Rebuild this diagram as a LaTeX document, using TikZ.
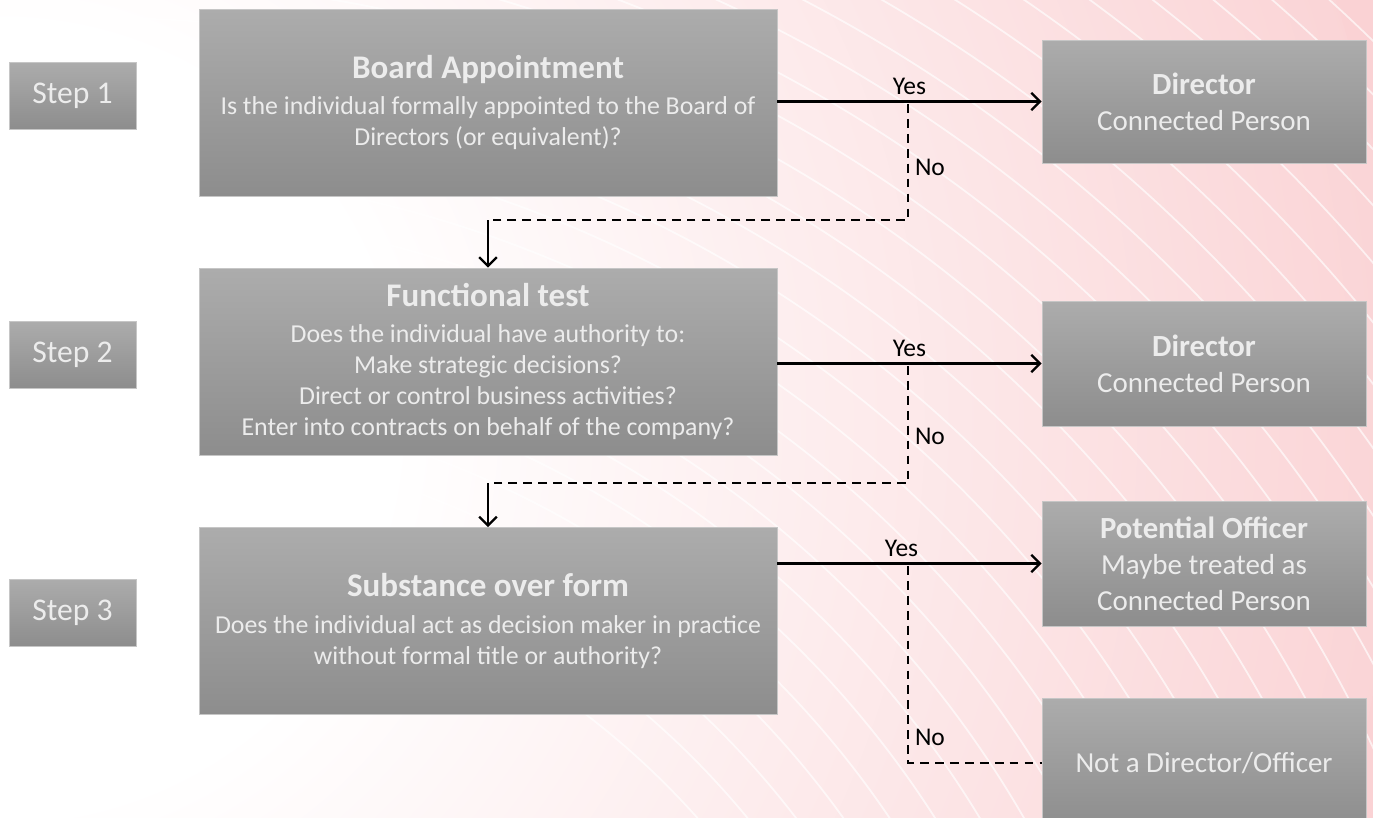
\documentclass[tikz,border=0pt]{standalone}
\usepackage{fontspec}
\setmainfont{Carlito}
\usetikzlibrary{arrows.meta}
\definecolor{bgpink}{RGB}{250,210,212}
\definecolor{boxtop}{RGB}{172,172,172}
\definecolor{boxbot}{RGB}{141,141,141}
\definecolor{boxtext}{RGB}{236,236,236}
\pgfdeclareradialshading{bgglow}{\pgfpoint{0bp}{0bp}}{color(0bp)=(white); color(7bp)=(white); color(26bp)=(bgpink); color(50bp)=(bgpink)}
\newcommand{\lefttitle}[1]{{\fontsize{18.8}{20}\selectfont\bfseries #1}\\[3pt]}
\newcommand{\righttitle}[1]{{\fontsize{17.5}{20}\selectfont\bfseries #1}\\}

\begin{document}
\begin{tikzpicture}[x=0.02cm,y=-0.02cm,
  box/.style={rectangle, top color=boxtop, bottom color=boxbot, draw=gray!45, line width=0.4pt, text=boxtext, align=center, inner sep=0pt},
  stepbox/.style={box, minimum width=2.54cm, minimum height=1.34cm, font=\fontsize{18}{20}\selectfont},
  testbox/.style={box, minimum width=11.56cm, minimum height=3.74cm, font=\fontsize{14.7}{17.6}\selectfont},
  resultbox/.style={box, minimum width=6.48cm, font=\fontsize{16.5}{20.5}\selectfont},
  yes/.style={-{Straight Barb[length=5pt,width=10pt]}, line width=1.3pt},
  no/.style={dash pattern=on 5pt off 3.5pt, line width=1.3pt},
  lbl/.style={font=\fontsize{14.5}{16}\selectfont, text=black},
  bgline/.style={white, opacity=0.65, line width=1pt}
]
\useasboundingbox (0,0) rectangle (1373,818);

% background
\begin{scope}
\clip (0,0) rectangle (1373,818);
\fill[bgpink] (0,0) rectangle (1373,818);
\shade[shading=bgglow] (0,420) circle[radius=1400];
\foreach \r in {800,838,...,1900}
  \draw[bgline] (100,1350) circle[radius=\r];
\end{scope}

% steps
\node[stepbox] (step1) at (72.5,95.5) {Step 1};
\node[stepbox] (step2) at (72.5,354.5) {Step 2};
\node[stepbox] (step3) at (72.5,612.5) {Step 3};

% tests
\node[testbox] (board) at (488,102.5) {\lefttitle{Board Appointment}Is the individual formally appointed to the Board of\\Directors (or equivalent)?};
\node[testbox] (func) at (488,361.5) {\lefttitle{Functional test}Does the individual have authority to:\\Make strategic decisions?\\Direct or control business activities?\\Enter into contracts on behalf of the company?};
\node[testbox] (subst) at (488,621) {\lefttitle{Substance over form}Does the individual act as decision maker in practice\\without formal title or authority?};

% outcomes
\node[resultbox, minimum height=2.46cm] (dir1) at (1204,101.5) {\righttitle{Director}Connected Person};
\node[resultbox, minimum height=2.5cm] (dir2) at (1204,363.5) {\righttitle{Director}Connected Person};
\node[resultbox, minimum height=2.5cm] (officer) at (1204,563.5) {\righttitle{Potential Officer}Maybe treated as\\Connected Person};
\node[resultbox, minimum height=2.6cm] (none) at (1204,763) {Not a Director/Officer};

% yes branches
\draw[yes] (board.east |- dir1.west) -- node[lbl,above,pos=0.5] {Yes} (dir1.west);
\draw[yes] (func.east |- dir2.west) -- node[lbl,above,pos=0.5] {Yes} (dir2.west);
\draw[yes] (subst.east |- officer.west) -- node[lbl,above,pos=0.47] {Yes} (officer.west);

% no branches
\coordinate (split1) at (908,104);
\coordinate (bend1) at (908,220);
\coordinate (drop1) at (488,220);
\draw[no] (split1) -- node[lbl,right,pos=0.55] {No} (bend1) -- (drop1);
\draw[yes] (drop1) -- (func.north);

\coordinate (split2) at (908,366);
\coordinate (bend2) at (908,483);
\coordinate (drop2) at (488,483);
\draw[no] (split2) -- node[lbl,right,pos=0.6] {No} (bend2) -- (drop2);
\draw[yes] (drop2) -- (subst.north);

\coordinate (split3) at (908,566);
\coordinate (bend3) at (908,763);
\draw[no] (split3) -- node[lbl,right,pos=0.87] {No} (bend3) -- (none.west);
\end{tikzpicture}
\end{document}
